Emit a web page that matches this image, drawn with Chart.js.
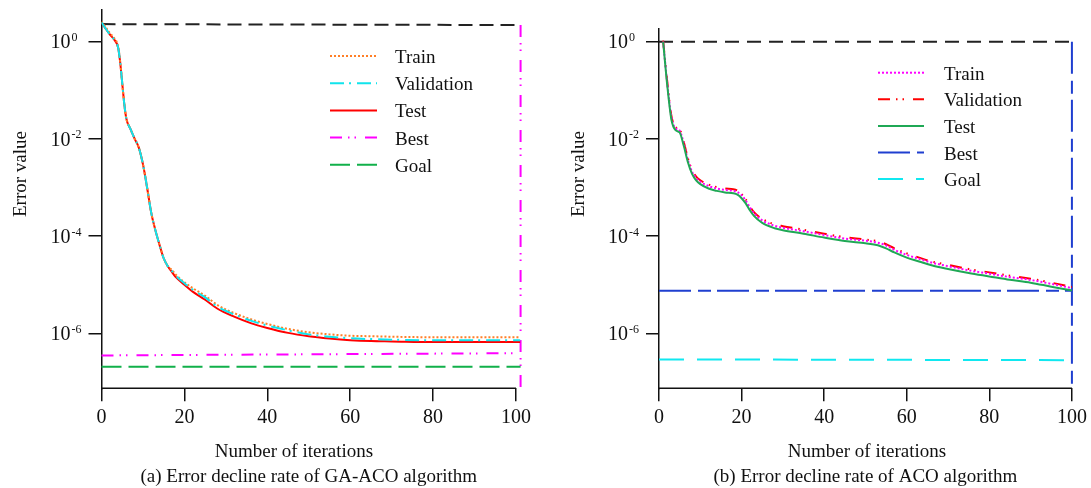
<!DOCTYPE html>
<html>
<head>
<meta charset="utf-8">
<script src="https://cdn.jsdelivr.net/npm/chart.js@4.4.0/dist/chart.umd.min.js"></script>
<style>
  body { margin: 0; background: #fff; }
  .panel { position: absolute; top: 0; }
</style>
</head>
<body>
<div class="panel" style="left:0"><canvas id="chartA" width="545" height="488"></canvas></div>
<div class="panel" style="left:545px"><canvas id="chartB" width="546" height="488"></canvas></div>
<script>
// shared axis ticks
const xTicks = [0, 20, 40, 60, 80, 100];
const yTicks = [1, 1e-2, 1e-4, 1e-6];
const yTickExp = ['0', '-2', '-4', '-6'];
const yMin = 7.38e-8;

// (a) GA-ACO
const itersA = [0, 1, 2, 3, 4, 4.5, 5, 5.5, 6, 7, 8, 9, 10, 11, 12, 13, 14, 15, 16, 17, 18, 20, 22, 25, 28, 32, 36, 40, 45, 50, 55, 60, 65, 70, 80, 90, 101];
const trainA = [2.6, 2.0, 1.5, 1.2, 0.8, 0.4, 0.141, 0.052, 0.026, 0.0158, 0.0100, 0.0066, 0.0030, 0.0010, 3.0e-4, 1.32e-4, 6.6e-5, 3.5e-5, 2.4e-5, 2.0e-5, 1.58e-5, 1.12e-5, 8.5e-6, 5.9e-6, 3.8e-6, 2.6e-6, 1.95e-6, 1.55e-6, 1.23e-6, 1.05e-6, 9.5e-7, 8.9e-7, 8.7e-7, 8.5e-7, 8.3e-7, 8.3e-7, 8.3e-7];
const validA = [2.5, 1.86, 1.41, 1.12, 0.76, 0.38, 0.141, 0.052, 0.026, 0.0158, 0.0100, 0.0066, 0.0030, 0.0010, 3.0e-4, 1.32e-4, 6.6e-5, 3.5e-5, 2.4e-5, 1.9e-5, 1.5e-5, 1.07e-5, 7.9e-6, 5.5e-6, 3.5e-6, 2.45e-6, 1.82e-6, 1.45e-6, 1.15e-6, 9.5e-7, 8.5e-7, 7.9e-7, 7.6e-7, 7.4e-7, 7.2e-7, 7.2e-7, 7.2e-7];
const testA = [2.5, 1.86, 1.41, 1.12, 0.76, 0.38, 0.141, 0.052, 0.026, 0.0158, 0.0100, 0.0066, 0.0030, 0.0010, 3.0e-4, 1.32e-4, 6.6e-5, 3.5e-5, 2.4e-5, 1.82e-5, 1.41e-5, 1.0e-5, 7.2e-6, 4.9e-6, 3.2e-6, 2.2e-6, 1.62e-6, 1.29e-6, 1.02e-6, 8.7e-7, 7.8e-7, 7.2e-7, 6.9e-7, 6.8e-7, 6.6e-7, 6.6e-7, 6.6e-7];
const lineItersA = [0, 101.1];
const bestA = [3.5e-7, 3.9e-7];
const goalA = [2.05e-7, 2.05e-7];
const topA = [2.3, 2.2];
const bestIterA = 101.1;

// (b) ACO
const itersB = [1, 2, 3, 4, 5, 6, 7, 8, 9, 10, 12, 14, 16, 18, 19, 20, 21, 22, 23, 25, 28, 30, 35, 40, 45, 50, 53, 55, 57, 60, 63, 66, 70, 75, 80, 85, 90, 95, 100];
const trainB = [1.0, 0.14, 0.028, 0.0165, 0.0148, 0.0080, 0.0037, 0.0021, 0.00157, 0.00131, 1.07e-3, 9.5e-4, 8.9e-4, 8.5e-4, 8.0e-4, 6.9e-4, 5.4e-4, 3.9e-4, 2.95e-4, 2.1e-4, 1.63e-4, 1.48e-4, 1.26e-4, 1.05e-4, 8.9e-5, 8.0e-5, 7.3e-5, 6.4e-5, 5.2e-5, 4.1e-5, 3.4e-5, 2.85e-5, 2.4e-5, 1.97e-5, 1.68e-5, 1.43e-5, 1.25e-5, 1.04e-5, 8.5e-6];
const validB = [1.05, 0.15, 0.030, 0.0175, 0.0158, 0.0086, 0.0040, 0.0023, 0.00168, 0.00141, 1.15e-3, 1.02e-3, 9.5e-4, 9.2e-4, 8.6e-4, 7.3e-4, 5.7e-4, 4.1e-4, 3.1e-4, 2.25e-4, 1.75e-4, 1.6e-4, 1.35e-4, 1.12e-4, 9.5e-5, 8.5e-5, 7.8e-5, 6.8e-5, 5.6e-5, 4.4e-5, 3.6e-5, 3.0e-5, 2.55e-5, 2.1e-5, 1.79e-5, 1.53e-5, 1.33e-5, 1.1e-5, 9.0e-6];
const testB = [1.0, 0.126, 0.025, 0.0151, 0.0135, 0.0072, 0.0033, 0.0019, 0.0014, 0.00117, 9.5e-4, 8.5e-4, 7.9e-4, 7.6e-4, 7.1e-4, 6.0e-4, 4.7e-4, 3.4e-4, 2.6e-4, 1.86e-4, 1.45e-4, 1.32e-4, 1.12e-4, 9.3e-5, 7.9e-5, 7.1e-5, 6.5e-5, 5.6e-5, 4.6e-5, 3.6e-5, 3.0e-5, 2.5e-5, 2.1e-5, 1.74e-5, 1.48e-5, 1.26e-5, 1.10e-5, 9.1e-6, 7.6e-6];
const lineItersB = [0, 100];
const bestB = [7.5e-6, 7.5e-6];
const goalItersB = [0, 98.5];
const goalB = [2.9e-7, 2.8e-7];
const topB = [1.0, 1.0];
const bestIterB = 100;

Chart.defaults.font.family = "'Liberation Serif', 'Times New Roman', serif";
Chart.defaults.color = '#111';

function pts(xs, ys) {
    return xs.map((x, i) => ({ x: x, y: ys[i] }));
}

function curve(label, xs, ys, color, dash, order) {
    return { label: label, data: pts(xs, ys), borderColor: color, borderDash: dash, borderWidth: 2,
             pointRadius: 0, fill: false, cubicInterpolationMode: 'monotone', order: order };
}

function rule(label, data, color, dash, order) {
    return { label: label, data: data, borderColor: color, borderDash: dash, borderWidth: 2,
             pointRadius: 0, fill: false, tension: 0, order: order, clip: false };
}

// draws axis line, 10^n labels, titles, caption and legend
const decor = {
    id: 'decor',
    afterDraw(chart, args, o) {
        const { ctx, chartArea: a, scales: { x, y } } = chart;
        ctx.save();
        ctx.strokeStyle = '#111';
        ctx.lineWidth = 1.5;
        ctx.setLineDash([]);
        ctx.beginPath();
        ctx.moveTo(x.getPixelForValue(xTicks[0]), a.bottom);
        ctx.lineTo(x.getPixelForValue(xTicks[xTicks.length - 1]), a.bottom);
        ctx.stroke();

        ctx.fillStyle = '#111';
        ctx.textAlign = 'left';
        ctx.textBaseline = 'alphabetic';
        yTicks.forEach((v, i) => {
            const py = y.getPixelForValue(v);
            const lx = a.left - 51;
            ctx.font = "20px 'Liberation Serif'";
            ctx.fillText('10', lx, py + 6.8);
            const w = ctx.measureText('10').width;
            ctx.font = "12px 'Liberation Serif'";
            ctx.fillText(yTickExp[i], lx + w + 1, py - 0.5);
        });

        ctx.font = "19px 'Liberation Serif'";
        ctx.textAlign = 'center';
        ctx.fillText('Number of iterations', o.xTitleX, 457);
        ctx.fillText(o.caption, (x.getPixelForValue(xTicks[0]) + x.getPixelForValue(xTicks[xTicks.length - 1])) / 2, 482);

        ctx.save();
        ctx.translate(a.left - 75.5, 174);
        ctx.rotate(-Math.PI / 2);
        ctx.fillText('Error value', 0, 0);
        ctx.restore();

        // legend
        ctx.textAlign = 'left';
        let row = 0;
        chart.data.datasets.forEach(ds => {
            if (!ds.label) return;
            const ly = o.legend.y0 + row * o.legend.dy;
            ctx.strokeStyle = ds.borderColor;
            ctx.lineWidth = 2;
            ctx.setLineDash(ds.borderDash || []);
            ctx.beginPath();
            ctx.moveTo(o.legend.x0, ly);
            ctx.lineTo(o.legend.x1, ly);
            ctx.stroke();
            ctx.fillText(ds.label, o.legend.tx, ly + 7);
            row++;
        });
        ctx.restore();
    }
};

function makeChart(id, cfg) {
    return new Chart(document.getElementById(id), {
        type: 'line',
        data: { datasets: cfg.datasets },
        options: {
            responsive: false,
            animation: false,
            layout: { autoPadding: false, padding: cfg.padding },
            plugins: { legend: { display: false }, tooltip: { enabled: false }, decor: cfg.decor },
            scales: {
                x: {
                    type: 'linear', min: 0, max: cfg.xMax,
                    border: { display: false },
                    grid: { drawOnChartArea: false, tickLength: 13, color: '#111', lineWidth: 1.5 },
                    ticks: { padding: 4, font: { size: 20 }, color: '#111', callback: v => String(v) },
                    afterBuildTicks: s => { s.ticks = xTicks.map(v => ({ value: v })); },
                    afterFit: s => { s.height = 99.7; }
                },
                y: {
                    type: 'logarithmic', min: yMin, max: cfg.yMax,
                    border: { color: '#111', width: 1.5 },
                    grid: { drawOnChartArea: false, tickLength: 13, color: '#111', lineWidth: 1.5 },
                    ticks: { display: false },
                    afterBuildTicks: s => { s.ticks = yTicks.map(v => ({ value: v })); },
                    afterFit: s => { s.width = cfg.axisLeft; }
                }
            }
        },
        plugins: [decor]
    });
}

makeChart('chartA', {
    xMax: 101.2, yMax: 4.49, axisLeft: 101.5,
    padding: { top: 10, right: 24, bottom: 0, left: 0 },
    decor: { xTitleX: 294, caption: '(a) Error decline rate of GA-ACO algorithm',
             legend: { x0: 330, x1: 377, tx: 395, y0: 56, dy: 27.2 } },
    datasets: [
        curve('Train', itersA, trainA, '#ff7f27', [2, 2], 1),
        curve('Validation', itersA, validA, '#10e4ec', [14, 5, 2, 6], 0),
        curve('Test', itersA, testA, '#ff0000', [], 2),
        rule('Best', pts(lineItersA, bestA), '#ff00ff', [12, 6, 1.5, 5, 1.5, 9], 3),
        rule('Goal', pts(lineItersA, goalA), '#11b04a', [20, 7], 4),
        rule('', pts(lineItersA, topA), '#222', [14, 7], 5),
        rule('', [{ x: bestIterA, y: topA[1] }, { x: bestIterA, y: yMin }], '#ff00ff', [12, 6, 1.5, 5, 1.5, 9], 6)
    ]
});

makeChart('chartB', {
    xMax: 100.5, yMax: 1.82, axisLeft: 114,
    padding: { top: 29, right: 16.6, bottom: 0, left: 0 },
    decor: { xTitleX: 322, caption: '(b) Error decline rate of ACO algorithm',
             legend: { x0: 333, x1: 379, tx: 399, y0: 72.7, dy: 26.6 } },
    datasets: [
        curve('Train', itersB, trainB, '#ff00ff', [2, 2], 1),
        curve('Validation', itersB, validB, '#ff0000', [12, 6, 1.5, 5, 1.5, 9], 2),
        curve('Test', itersB, testB, '#1fa855', [], 0),
        rule('Best', pts(lineItersB, bestB), '#1f3fd0', [32, 7, 13, 6], 3),
        rule('Goal', pts(goalItersB, goalB), '#10e8f0', [25, 13], 4),
        rule('', pts(lineItersB, topB), '#222', [14, 8], 5),
        rule('', [{ x: bestIterB, y: topB[1] }, { x: bestIterB, y: yMin }], '#1f3fd0', [32, 7, 13, 6], 6)
    ]
});
</script>
</body>
</html>
